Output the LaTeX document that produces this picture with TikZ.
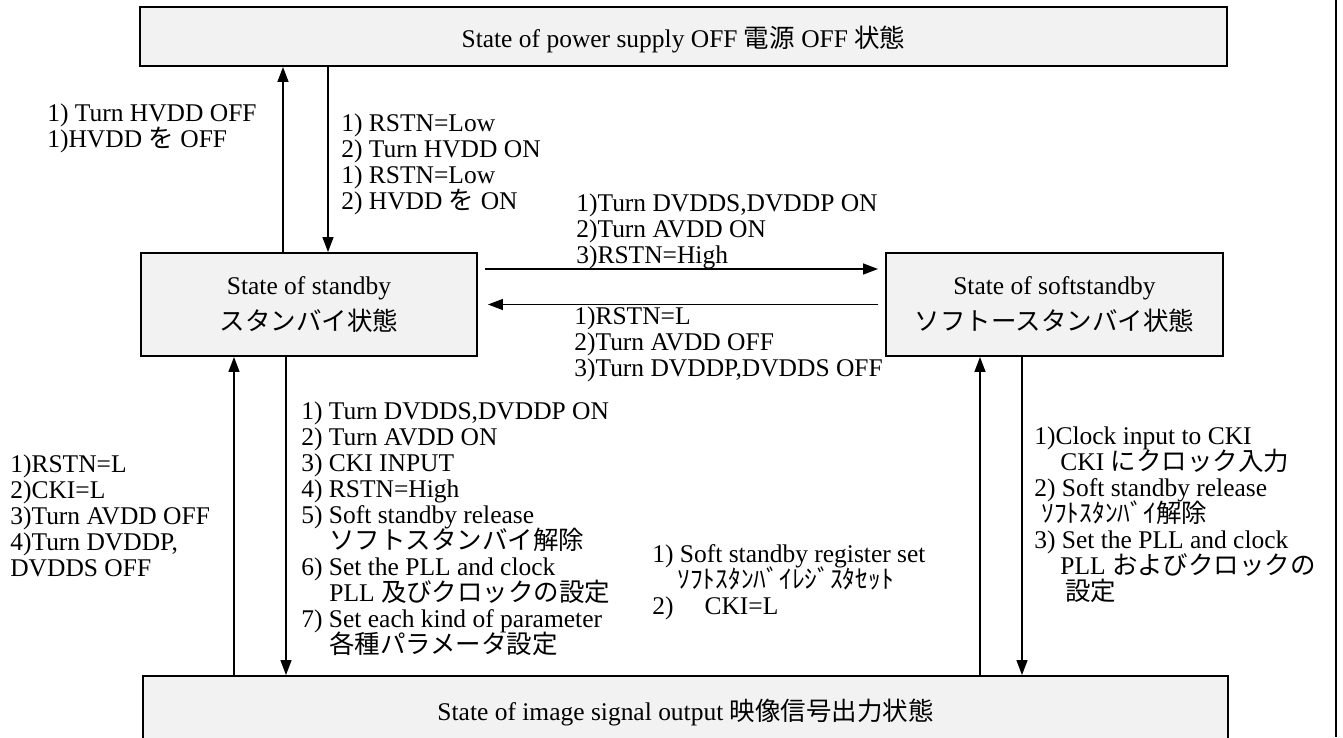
\documentclass[tikz,border=0pt]{standalone}
\usepackage{fontspec}
\setmainfont{Liberation Serif}
\newfontfamily\jp{Noto Sans CJK JP}
\usetikzlibrary{arrows.meta}
\newcommand\labelfont{\fontsize{14.5pt}{14.8pt}\selectfont\lineskiplimit=-20pt\relax}

\begin{document}
\begin{tikzpicture}[font=\labelfont,
  state/.style={draw,line width=1.1pt,fill=black!5,align=center},
  note/.style={anchor=north west,align=left,inner sep=0pt},
  arr/.style={line width=0.8pt,-{Triangle[length=0.3cm,width=0.22cm]}}]
\useasboundingbox (0,0) rectangle (26.86,-14.74);
\clip (0,0) rectangle (26.86,-14.74);
\node[state,minimum width=21.74cm,minimum height=1.18cm,text height=0.55cm,text depth=0.1cm] (off) at (13.67,-0.73) {State of power supply OFF {\jp 電源} OFF {\jp 状態}};
\node[state,minimum width=6.72cm,minimum height=2.06cm] (standby) at (6.18,-6.09) {State of standby\\[6pt]{\jp スタンバイ状態}};
\node[state,minimum width=6.74cm,minimum height=2.06cm] (soft) at (21.09,-6.09) {State of softstandby\\[6pt]{\jp ソフトースタンバイ状態}};
\node[state,minimum width=21.7cm,minimum height=1.44cm] (image) at (13.71,-14.24) {State of image signal output {\jp 映像信号出力状態}};
\draw[arr] ([xshift=-0.52cm]standby.north) -- ([xshift=-0.52cm]standby.north |- off.south);
\draw[arr] ([xshift=0.38cm]standby.north |- off.south) -- ([xshift=0.38cm]standby.north);
\draw[arr] ([shift={(0.14,0.71)}]standby.east) -- ([shift={(-0.14,0.71)}]soft.west);
\draw[arr] ([xshift=-0.14cm]soft.west) -- ([xshift=0.2cm]standby.east);
\draw[arr] ([xshift=-1.5cm]standby.south |- image.north) -- ([xshift=-1.5cm]standby.south);
\draw[arr] ([xshift=-0.46cm]standby.south) -- ([xshift=-0.46cm]standby.south |- image.north);
\draw[arr] ([xshift=-1.49cm]soft.south |- image.north) -- ([xshift=-1.49cm]soft.south);
\draw[arr] ([xshift=-0.65cm]soft.south) -- ([xshift=-0.65cm]soft.south |- image.north);
\node[note] (hvddoff) at (0.94,-2.06) {1) Turn HVDD OFF\\1)HVDD {\jp を} OFF};
\node[note] (hvddon) at (6.82,-2.26) {1) RSTN=Low\\2) Turn HVDD ON\\1) RSTN=Low\\2) HVDD {\jp を} ON};
\node[note] (tosoft) at (11.52,-3.86) {1)Turn DVDDS,DVDDP ON\\2)Turn AVDD ON\\3)RSTN=High};
\node[note] (tostandby) at (11.48,-6.12) {1)RSTN=L\\2)Turn AVDD OFF\\3)Turn DVDDP,DVDDS OFF};
\node[note] (stopout) at (0.2,-9.08) {1)RSTN=L\\2)CKI=L\\3)Turn AVDD OFF\\4)Turn DVDDP,\\DVDDS OFF};
\node[note] (startout) at (6.02,-8.02) {1) Turn DVDDS,DVDDP ON\\2) Turn AVDD ON\\3) CKI INPUT\\4) RSTN=High\\5) Soft standby release\\
  \hspace*{0.56cm}{\jp ソフトスタンバイ解除}\\6) Set the PLL and clock\\
  \hspace*{0.56cm}PLL {\jp 及びクロックの設定}\\7) Set each kind of parameter\\
  \hspace*{0.56cm}{\jp 各種パラメータ設定}};
\node[note] (softset) at (13.04,-10.88) {1) Soft standby register set\\
  \hspace*{0.5cm}{\jp ｿﾌﾄｽﾀﾝﾊﾞｲﾚｼﾞｽﾀｾｯﾄ}\\2)\hspace*{0.62cm}CKI=L};
\node[note] (softrel) at (20.68,-8.52) {1)Clock input to CKI\\
  \hspace*{0.52cm}CKI {\jp にクロック入力}\\2) Soft standby release\\
  \hspace*{0.14cm}{\jp ｿﾌﾄｽﾀﾝﾊﾞｲ解除}\\3) Set the PLL and clock\\
  \hspace*{0.52cm}PLL {\jp およびクロックの}\\
  \hspace*{0.62cm}{\jp 設定}};
\draw[line width=1pt] (26.72,0) -- (26.72,-14.74);
\end{tikzpicture}
\end{document}
